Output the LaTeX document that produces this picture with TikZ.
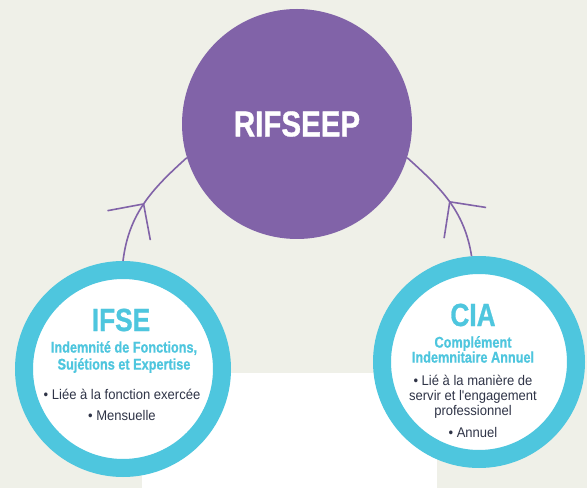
\documentclass[tikz,border=0pt]{standalone}
\usepackage{fontspec}
\newfontfamily\condbold[FakeStretch=0.82, FakeBold=0.8]{Liberation Sans Bold}
\newfontfamily\condreg[FakeStretch=0.93]{Liberation Sans}
\usepackage{tikz}
\usetikzlibrary{positioning, arrows.meta, decorations.markings}

\definecolor{bgcol}{HTML}{EFF0E8}
\definecolor{rifcol}{HTML}{8163A8}
\definecolor{ringcol}{HTML}{4EC6DE}
\definecolor{bodycol}{HTML}{2F3447}

\tikzset{
  ring/.style={circle, draw=ringcol, fill=white, line width=18pt},
  titletext/.style={text=ringcol, font=\condbold\fontsize{32}{34}\selectfont},
  subtext/.style={text=ringcol, align=center, font=\condbold\fontsize{15.5}{17}\selectfont},
  bodytext/.style={text=bodycol, align=center, font=\condreg\fontsize{14}{15}\selectfont},
  conn/.style={rifcol, line width=1.6pt, postaction={decorate},
    decoration={markings, mark=at position #1 with {\arrow{Straight Barb[length=26pt,width=52pt,line width=1.6pt]}}}}
}

\begin{document}
\begin{tikzpicture}[x=1pt, y=1pt]
  \path[use as bounding box] (0,0) rectangle (587,488);
  \fill[bgcol] (0,0) rectangle (587,488);
  \fill[white] (142,0) rectangle (437,115);

  \node[circle, fill=rifcol, minimum size=230pt, inner sep=0pt] (rif) at (297,364) {};
  \node[ring, minimum size=198pt] (ifse) at (123,119) {};
  \node[ring, minimum size=194pt] (cia) at (479,126) {};

  \draw[conn=0.5] (ifse.north) to[out=83, in=222] (rif.197);
  \draw[conn=0.5] (cia.94) to[out=99, in=-42] (rif.-17);

  \node[text=white, font=\condbold\fontsize{36}{38}\selectfont] (riftitle) at (rif.center) {RIFSEEP};

  \node[titletext] (ifsetitle) at (121,168) {IFSE};
  \node[subtext] (ifsesub) at (124,131) {Indemnité de Fonctions,\\Sujétions et Expertise};
  \node[bodytext] (ifsebody) at (122,83.5) {• Liée à la fonction exercée\\[6pt]• Mensuelle};

  \node[titletext] (ciatitle) at (473,173) {CIA};
  \node[subtext, font=\condbold\fontsize{15.5}{15}\selectfont] (ciasub) at (473,138.5) {Complément\\Indemnitaire Annuel};
  \node[bodytext] (ciabody) at (473,82) {• Lié à la manière de\\servir et l'engagement\\professionnel\\[7pt]• Annuel};
\end{tikzpicture}
\end{document}
